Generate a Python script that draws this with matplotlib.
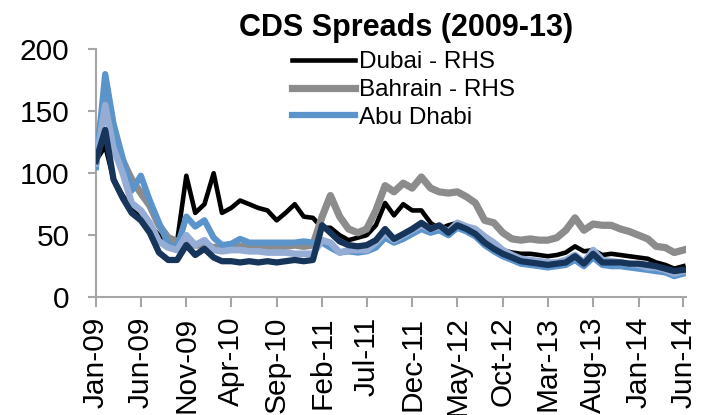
import matplotlib
matplotlib.use("Agg")
import matplotlib.pyplot as plt
import pandas as pd

# Monthly observations, Jan-2009 .. Jun-2014 (66 months)
dates = pd.date_range("2009-01-01", "2014-06-01", freq="MS")

dubai = [110, 122, 95, 82, 72, 65, 58, 50, 46, 45, 98, 68, 75, 100, 68, 72, 78, 75, 72, 70, 62, 68,
         75, 65, 64, 56, 56, 50, 46, 48, 50, 58, 76, 66, 75, 70, 70, 60, 55, 58, 60, 55, 50, 47,
         42, 38, 36, 35, 35, 34, 33, 34, 36, 41, 37, 38, 34, 35, 34, 33, 32, 31, 28, 26, 23, 25]

bahrain = [110, 165, 130, 110, 95, 84, 74, 58, 48, 45, 45, 42, 42, 40, 41, 40, 41, 40, 41, 40, 41, 41,
           42, 41, 42, 65, 82, 65, 55, 52, 55, 70, 90, 85, 92, 88, 97, 88, 85, 84, 85, 81, 76, 62,
           60, 52, 47, 46, 47, 46, 46, 48, 54, 64, 54, 59, 58, 58, 55, 53, 50, 47, 41, 40, 36, 38]

abu_dhabi = [105, 180, 140, 112, 86, 98, 78, 60, 43, 40, 65, 57, 62, 48, 42, 43, 47, 44, 44, 44, 44, 44,
             44, 45, 44, 44, 40, 36, 37, 36, 37, 40, 48, 44, 47, 51, 55, 52, 54, 50, 56, 53, 49, 42,
             37, 33, 30, 27, 26, 25, 24, 25, 26, 30, 25, 32, 26, 25, 25, 24, 23, 22, 21, 20, 17, 19]

lavender_series = [108, 155, 120, 100, 76, 70, 60, 45, 40, 38, 50, 42, 46, 38, 37, 38, 38, 37, 37, 36, 36, 36,
                   35, 35, 35, 46, 44, 36, 38, 38, 38, 44, 52, 46, 50, 54, 58, 55, 57, 53, 60, 57, 55, 49,
                   44, 38, 34, 31, 30, 29, 28, 28, 30, 34, 28, 38, 30, 29, 28, 27, 26, 24, 24, 22, 19, 21]

navy_series = [110, 135, 95, 80, 68, 62, 52, 36, 30, 30, 42, 34, 39, 32, 29, 29, 28, 29, 28, 29, 28, 29,
               30, 29, 30, 58, 52, 45, 42, 41, 42, 46, 55, 47, 51, 55, 60, 55, 58, 52, 58, 55, 51, 44,
               39, 35, 32, 29, 28, 27, 26, 27, 28, 33, 27, 35, 28, 28, 28, 27, 27, 26, 25, 23, 21, 22]

tick_dates = pd.date_range("2009-01-01", "2014-06-01", freq="5MS")
tick_labels = [d.strftime("%b-%y") for d in tick_dates]
y_ticks = [0, 50, 100, 150, 200]

plt.rcParams["font.family"] = ["Liberation Sans", "DejaVu Sans"]

fig = plt.figure(figsize=(7.11, 4.15), dpi=100)
ax = fig.add_axes([0.135, 0.284, 0.830, 0.597])

l_dubai, = ax.plot(dates, dubai, color="#000000", lw=3.3, solid_joinstyle="round", zorder=2)
l_bah, = ax.plot(dates, bahrain, color="#8C8C8C", lw=5.2, solid_joinstyle="round", zorder=3)
l_abu, = ax.plot(dates, abu_dhabi, color="#5B93CB", lw=4.5, solid_joinstyle="round", zorder=4)
ax.plot(dates, lavender_series, color="#95ADD5", lw=4.8, solid_joinstyle="round", zorder=5)
ax.plot(dates, navy_series, color="#17345A", lw=4.5, solid_joinstyle="round", zorder=6)

ax.set_ylim(0, 200)
ax.set_yticks(y_ticks)
ax.set_xlim(pd.Timestamp("2009-01-01"), pd.Timestamp("2014-06-10"))
ax.set_xticks(tick_dates)
ax.set_xticklabels(tick_labels, rotation=90)

for s in ["top", "right"]:
    ax.spines[s].set_visible(False)
for s in ["left", "bottom"]:
    ax.spines[s].set_color("#A6A6A6")
    ax.spines[s].set_linewidth(1.5)

ax.tick_params(axis="y", colors="#A6A6A6", labelcolor="black", length=6, width=1.5,
               labelsize=21.5, pad=13)
ax.tick_params(axis="x", colors="#A6A6A6", labelcolor="black", length=7, width=1.5,
               labelsize=21.5, pad=7)

fig.text(0.571, 1 - 35.7 / 415, "CDS Spreads (2009-13)", ha="center", va="baseline",
         fontsize=22, fontweight="bold")

fig.legend([l_dubai, l_bah, l_abu], ["Dubai - RHS", "Bahrain - RHS", "Abu Dhabi"],
           loc="upper left", bbox_to_anchor=(0.411, 0.876), frameon=False,
           fontsize=17.5, handlelength=2.6, handletextpad=0.15, labelspacing=0.23,
           borderpad=0, borderaxespad=0)

fig.savefig("out.png", dpi=100)
